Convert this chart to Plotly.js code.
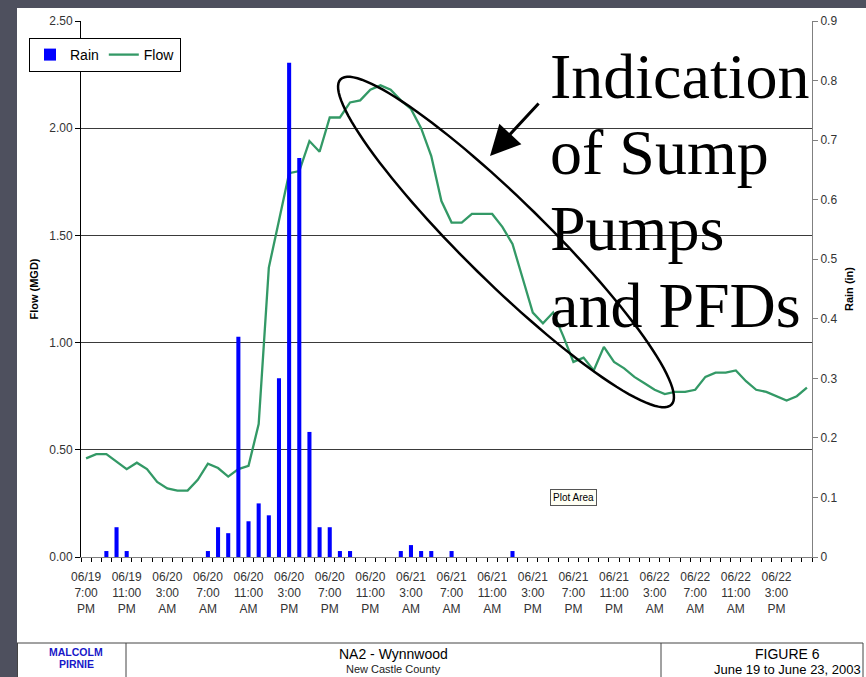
<!DOCTYPE html>
<html><head><meta charset="utf-8">
<script src="https://cdn.plot.ly/plotly-3.0.1.min.js"></script>
<style>html,body{margin:0;padding:0;background:#4E505E;}#chart{width:866px;height:677px;}</style>
</head><body><div id="chart"></div>
<script>
// Hourly categories, 06/19 7:00 PM to 06/22 6:00 PM
const categories = [
"06/19 7:00 PM","06/19 8:00 PM","06/19 9:00 PM","06/19 10:00 PM","06/19 11:00 PM",
"06/20 12:00 AM","06/20 1:00 AM","06/20 2:00 AM","06/20 3:00 AM","06/20 4:00 AM","06/20 5:00 AM",
"06/20 6:00 AM","06/20 7:00 AM","06/20 8:00 AM","06/20 9:00 AM","06/20 10:00 AM","06/20 11:00 AM",
"06/20 12:00 PM","06/20 1:00 PM","06/20 2:00 PM","06/20 3:00 PM","06/20 4:00 PM","06/20 5:00 PM",
"06/20 6:00 PM","06/20 7:00 PM","06/20 8:00 PM","06/20 9:00 PM","06/20 10:00 PM","06/20 11:00 PM",
"06/21 12:00 AM","06/21 1:00 AM","06/21 2:00 AM","06/21 3:00 AM","06/21 4:00 AM","06/21 5:00 AM",
"06/21 6:00 AM","06/21 7:00 AM","06/21 8:00 AM","06/21 9:00 AM","06/21 10:00 AM","06/21 11:00 AM",
"06/21 12:00 PM","06/21 1:00 PM","06/21 2:00 PM","06/21 3:00 PM","06/21 4:00 PM","06/21 5:00 PM",
"06/21 6:00 PM","06/21 7:00 PM","06/21 8:00 PM","06/21 9:00 PM","06/21 10:00 PM","06/21 11:00 PM",
"06/22 12:00 AM","06/22 1:00 AM","06/22 2:00 AM","06/22 3:00 AM","06/22 4:00 AM","06/22 5:00 AM",
"06/22 6:00 AM","06/22 7:00 AM","06/22 8:00 AM","06/22 9:00 AM","06/22 10:00 AM","06/22 11:00 AM",
"06/22 12:00 PM","06/22 1:00 PM","06/22 2:00 PM","06/22 3:00 PM","06/22 4:00 PM","06/22 5:00 PM",
"06/22 6:00 PM"
];

// Rain (in), hourly
const rain = [
0,0,0.01,0.05,0.01,0,0,0,0,0,0,0,
0.01,0.05,0.04,0.37,0.06,0.09,0.07,0.30,0.83,0.67,0.21,0.05,
0.05,0.01,0.01,0,0,0,0,0.01,0.02,0.01,0.01,0,
0.01,0,0,0,0,0,0.01,0,0,0,0,0,
0,0,0,0,0,0,0,0,0,0,0,0,
0,0,0,0,0,0,0,0,0,0,0,0
];

// Flow (MGD), hourly
const flow = [
0.46,0.48,0.48,0.445,0.41,0.44,0.41,0.35,0.32,0.31,0.31,0.36,
0.435,0.415,0.375,0.41,0.425,0.62,1.35,1.57,1.79,1.80,1.94,1.89,
2.05,2.05,2.12,2.13,2.18,2.20,2.18,2.13,2.09,2.00,1.87,1.66,
1.56,1.56,1.60,1.60,1.60,1.54,1.46,1.30,1.14,1.09,1.14,1.03,
0.91,0.93,0.87,0.98,0.91,0.88,0.84,0.81,0.78,0.76,0.77,0.77,
0.78,0.84,0.86,0.86,0.87,0.82,0.78,0.77,0.75,0.73,0.75,0.79
];

const tickText = [
"06/19<br>7:00<br>PM","06/19<br>11:00<br>PM","06/20<br>3:00<br>AM","06/20<br>7:00<br>AM",
"06/20<br>11:00<br>AM","06/20<br>3:00<br>PM","06/20<br>7:00<br>PM","06/20<br>11:00<br>PM",
"06/21<br>3:00<br>AM","06/21<br>7:00<br>AM","06/21<br>11:00<br>AM","06/21<br>3:00<br>PM",
"06/21<br>7:00<br>PM","06/21<br>11:00<br>PM","06/22<br>3:00<br>AM","06/22<br>7:00<br>AM",
"06/22<br>11:00<br>AM","06/22<br>3:00<br>PM"
];
const tickVals = categories.filter((c, i) => i % 4 === 0);

const seriesNames = ["Rain", "Flow"];

// ---------- geometry helpers (pixel -> paper) ----------
const L = 81, R = 812, T = 21, B = 557;
const px = x => (x - L) / (R - L);
const py = y => (B - y) / (B - T);

// rotated ellipse outline
function ellipsePath(cx, cy, a, b, deg) {
  const th = deg * Math.PI / 180, n = 120;
  let s = "";
  for (let i = 0; i <= n; i++) {
    const t = 2 * Math.PI * i / n;
    const X = cx + a * Math.cos(t) * Math.cos(th) - b * Math.sin(t) * Math.sin(th);
    const Y = cy + a * Math.cos(t) * Math.sin(th) + b * Math.sin(t) * Math.cos(th);
    s += (i === 0 ? "M " : " L ") + px(X).toFixed(5) + "," + py(Y).toFixed(5);
  }
  return s + " Z";
}

const FONT = "Liberation Sans, Arial, sans-serif";
const SERIF = "Liberation Serif, Times New Roman, serif";
const NARROW = "Liberation Sans Narrow, Arial Narrow, " + FONT;

const traces = [
  {
    type: "bar", name: seriesNames[0], x: categories, y: rain,
    xaxis: "x", yaxis: "y2", width: 0.4,
    marker: { color: "#0000FF", line: { width: 0 } }
  },
  {
    type: "scatter", mode: "lines", name: seriesNames[1], x: categories, y: flow,
    xaxis: "x", yaxis: "y",
    line: { color: "#339966", width: 2.3 }
  },
  { type: "scatter", x: [], y: [], xaxis: "x2", yaxis: "y", showlegend: false, hoverinfo: "skip" }
];

const lineShape = (x0, y0, x1, y1, c, w) => ({
  type: "line", xref: "paper", yref: "paper",
  x0: px(x0), y0: py(y0), x1: px(x1), y1: py(y1),
  line: { color: c, width: w }
});

const bigText = (txt, y) => ({
  xref: "paper", yref: "paper", x: px(548), y: py(y), xanchor: "left", yanchor: "middle",
  text: txt, showarrow: false, font: { family: SERIF, size: 64, color: "#000" }
});

const paperText = (txt, x, y, size, opts) => Object.assign({
  xref: "paper", yref: "paper", x: px(x), y: py(y), xanchor: "center", yanchor: "middle",
  text: txt, showarrow: false, font: { family: FONT, size: size, color: "#000" }
}, opts || {});

const layout = {
  width: 866, height: 677,
  margin: { l: L, r: 866 - R, t: T, b: 677 - B, pad: 0 },
  paper_bgcolor: "#4E505E",
  plot_bgcolor: "#FFFFCC",
  font: { family: FONT, size: 12, color: "#333" },
  showlegend: true,
  bargap: 0.6,
  hovermode: false,
  legend: {
    orientation: "h", x: px(29), y: py(38), xanchor: "left", yanchor: "top",
    bgcolor: "#FFFFFF", bordercolor: "#000", borderwidth: 1,
    font: { family: FONT, size: 14, color: "#000" }, itemwidth: 30, traceorder: "normal"
  },
  xaxis: {
    type: "category", range: [-0.5, 71.5],
    tickmode: "array", tickvals: tickVals, ticktext: tickText,
    ticks: "", showgrid: false, zeroline: false,
    showline: true, linecolor: "#808080", linewidth: 1,
    tickfont: { family: FONT, size: 12, color: "#333" },
    ticklabelstandoff: 9, fixedrange: true
  },
  xaxis2: {
    type: "linear", overlaying: "x", anchor: "y", side: "bottom",
    range: [-0.5, 71.5], tickmode: "linear", tick0: -0.5, dtick: 1,
    ticks: "outside", ticklen: 4, tickcolor: "#000", tickwidth: 1,
    showticklabels: false, showgrid: false, zeroline: false, showline: false
  },
  yaxis: {
    range: [0, 2.5], dtick: 0.5, tick0: 0, tickformat: ".2f",
    ticks: "outside", ticklen: 5, tickcolor: "#000",
    showline: true, linecolor: "#000", linewidth: 1,
    showgrid: true, gridcolor: "#3a3a3a", gridwidth: 1, zeroline: false,
    tickfont: { family: FONT, size: 12, color: "#333" },
    title: { text: "Flow (MGD)", standoff: 8, font: { family: FONT, size: 11, color: "#000", weight: "bold" } }
  },
  yaxis2: {
    overlaying: "y", side: "right", anchor: "x",
    range: [0, 0.9], dtick: 0.1, tick0: 0,
    ticks: "outside", ticklen: 5, tickcolor: "#808080",
    showline: true, linecolor: "#808080", linewidth: 1,
    showgrid: false, zeroline: false,
    tickfont: { family: FONT, size: 12, color: "#333" },
    title: { text: "Rain (in)", standoff: 8, font: { family: FONT, size: 11, color: "#000", weight: "bold" } }
  },
  shapes: [
    { type: "rect", xref: "paper", yref: "paper", layer: "below",
      x0: px(17), y0: py(8), x1: px(870), y1: py(680),
      fillcolor: "#FFFFFF", line: { width: 0 } },
    { type: "path", xref: "paper", yref: "paper", layer: "above",
      path: ellipsePath(506, 242, 232, 41, 44.5),
      line: { color: "#000", width: 2.5 } },
    lineShape(17, 643, 863, 643, "#444", 1),
    lineShape(126, 643, 126, 680, "#444", 1),
    lineShape(661, 643, 661, 680, "#444", 1),
    lineShape(863, 643, 863, 680, "#444", 1),
    lineShape(17.5, 643, 17.5, 680, "#444", 1)
  ],
  annotations: [
    bigText("Indication", 76),
    bigText("of Sump", 152),
    bigText("Pumps", 228),
    bigText("and PFDs", 305),
    { xref: "paper", yref: "paper", x: px(490), y: py(156), ax: 50, ay: -54,
      axref: "pixel", ayref: "pixel", text: "", showarrow: true,
      arrowhead: 2, arrowsize: 2, arrowwidth: 3, arrowcolor: "#000" },
    paperText("Plot Area", 573, 497, 10, { bgcolor: "#FFFFF4", bordercolor: "#555", borderwidth: 1, borderpad: 2 }),
    paperText("MALCOLM", 76, 652, 10.5, { font: { family: NARROW, size: 10.5, color: "#1818C8", weight: "bold" } }),
    paperText("PIRNIE", 76, 664, 10.5, { font: { family: NARROW, size: 10.5, color: "#1818C8", weight: "bold" } }),
    paperText("NA2 - Wynnwood", 393, 654, 14),
    paperText("New Castle County", 393, 669, 11, { font: { family: FONT, size: 11, color: "#222" } }),
    paperText("FIGURE 6", 787, 654, 14),
    paperText("June 19 to June 23, 2003", 787, 669, 13)
  ]
};

Plotly.newPlot("chart", traces, layout, { displayModeBar: false, staticPlot: true });
</script>
</body></html>
